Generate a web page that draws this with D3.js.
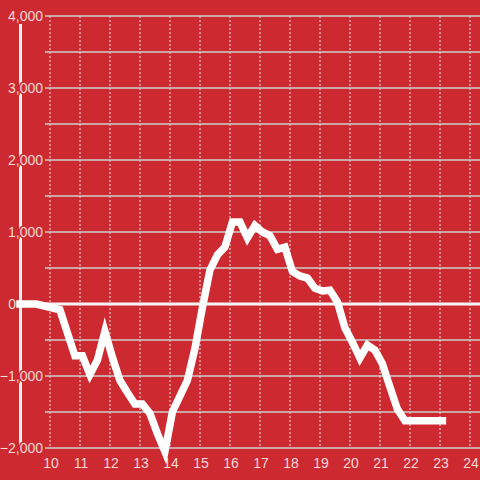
<!DOCTYPE html>
<html><head><meta charset="utf-8">
<script src="https://cdn.jsdelivr.net/npm/d3@7"></script>
<style>html,body{margin:0;padding:0;background:#cc2a30;}svg{display:block;}</style>
</head><body>
<svg id="c" width="480" height="480"></svg>
<script>
const hours = [9.0,9.55,10.33,10.83,11.08,11.33,11.58,11.83,12.08,12.33,12.58,12.83,13.08,13.33,13.58,13.83,14.08,14.33,14.58,14.83,15.08,15.33,15.58,15.83,16.08,16.33,16.58,16.83,17.08,17.33,17.58,17.83,18.08,18.33,18.58,18.83,19.08,19.33,19.58,19.83,20.08,20.33,20.58,20.83,21.08,21.33,21.58,21.83,22.08,22.6,23.08];
const values = [0,0,-80,-720,-720,-980,-780,-380,-740,-1060,-1230,-1390,-1390,-1520,-1800,-2050,-1500,-1280,-1060,-620,-50,470,680,790,1140,1140,920,1090,1000,950,760,790,450,390,360,220,180,190,30,-330,-530,-750,-570,-640,-830,-1150,-1460,-1620,-1620,-1620,-1620];
const xTicks = [10,11,12,13,14,15,16,17,18,19,20,21,22,23,24];
const yLabelTicks = [-2000,-1000,0,1000,2000,3000,4000];
const yGridTicks = [-2000,-1500,-1000,-500,500,1000,1500,2000,2500,3000,3500,4000];

const bg = "#cc2a30", txt = "#f4d8d8";
const svg = d3.select("#c");
const x = d3.scaleLinear().domain([10,24]).range([50,470]);
const y = d3.scaleLinear().domain([-2000,4000]).range([448,16]);
const fmt = d3.format(",");

svg.append("g").selectAll("line").data(xTicks).join("line")
  .attr("x1", d=>x(d)).attr("x2", d=>x(d)).attr("y1", y(4000)).attr("y2", y(-2000))
  .attr("stroke", "#e6e6e6").attr("stroke-width", 1).attr("stroke-dasharray", "2,2");

svg.append("g").selectAll("line").data(yGridTicks).join("line")
  .attr("x1", 45).attr("x2", 480).attr("y1", d=>y(d)).attr("y2", d=>y(d))
  .attr("stroke", "#cfcfcf").attr("stroke-width", 1.5);

svg.append("line").attr("x1", 20.5).attr("x2", 20.5).attr("y1", 24).attr("y2", 448)
  .attr("stroke", "#f2f2f2").attr("stroke-width", 3);

svg.append("line").attr("x1", 17).attr("x2", 480).attr("y1", y(0)).attr("y2", y(0))
  .attr("stroke", "#f4f4f4").attr("stroke-width", 3);

svg.append("g").selectAll("text").data(yLabelTicks).join("text")
  .attr("x", d => d === 0 ? 16 : 43).attr("y", d=>y(d)).attr("dy", "0.35em")
  .attr("text-anchor", "end").attr("font-family", "Liberation Sans, Arial, sans-serif")
  .attr("font-size", 14).attr("fill", txt)
  .attr("stroke", bg).attr("stroke-width", 3).attr("paint-order", "stroke")
  .text(d=>fmt(d));

svg.append("g").selectAll("text").data(xTicks).join("text")
  .attr("x", d=>x(d)+1).attr("y", 468)
  .attr("text-anchor", "middle").attr("font-family", "Liberation Sans, Arial, sans-serif")
  .attr("font-size", 14).attr("fill", txt)
  .text(d=>d);

const line = d3.line().x((d,i)=>x(hours[i])).y(d=>y(d));
svg.append("path").datum(values).attr("d", line)
  .attr("fill", "none").attr("stroke", "#ffffff").attr("stroke-width", 7.5)
  .attr("stroke-linejoin", "miter").attr("stroke-linecap", "square");
</script>
</body></html>
